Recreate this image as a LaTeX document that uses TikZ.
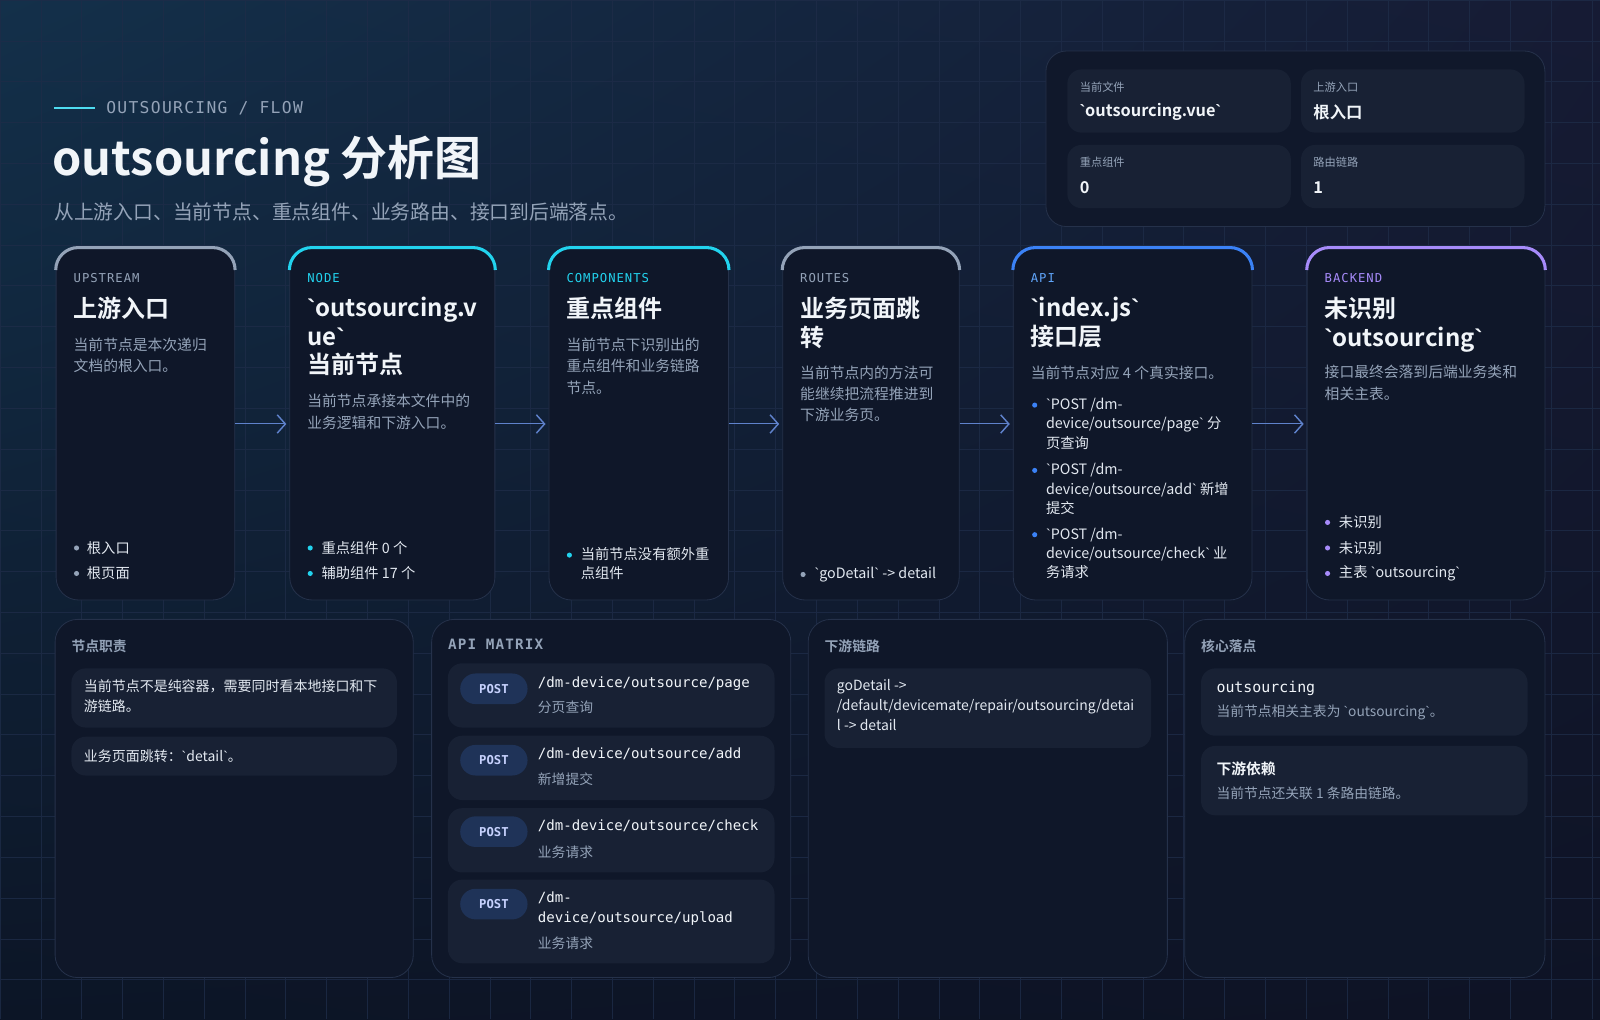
\documentclass[tikz,border=0pt]{standalone}
\usepackage{fontspec}
\setmainfont{Noto Sans CJK SC}[BoldFont={Noto Sans CJK SC Bold}]
\newfontfamily\labelfont[LetterSpace=8]{DejaVu Sans Mono}
\newfontfamily\codefont{DejaVu Sans Mono}
\newfontfamily\tickfont{Liberation Sans}
\usepackage{tikz}
\usetikzlibrary{arrows.meta,positioning,backgrounds,shadings}
\definecolor{bgTL}{HTML}{13304A}
\definecolor{bgTR}{HTML}{161B34}
\definecolor{bgBL}{HTML}{0C1526}
\definecolor{bgBR}{HTML}{0E1325}
\definecolor{gridc}{HTML}{1E2C48}
\definecolor{cardbg}{HTML}{0F1729}
\definecolor{cardline}{HTML}{25314A}
\definecolor{cellbg}{HTML}{182134}
\definecolor{ink}{HTML}{F1F5F9}
\definecolor{ink2}{HTML}{E2E8F0}
\definecolor{mute}{HTML}{94A3B8}
\definecolor{slate}{HTML}{94A3B8}
\definecolor{teal}{HTML}{22D3EE}
\definecolor{azure}{HTML}{3B82F6}
\definecolor{azuretxt}{HTML}{60A5FA}
\definecolor{violet}{HTML}{A78BFA}
\definecolor{arrowc}{HTML}{5F82CC}
\definecolor{pillbg}{HTML}{1F3358}
\definecolor{pilltxt}{HTML}{C7D2FE}
\newcommand\bq{{\tickfont\symbol{96}}}

\begin{document}
\begin{tikzpicture}[x=1pt,y=1pt,
    card/.style={draw=cardline, fill=cardbg, line width=0.8pt, rounded corners=22pt},
    cell/.style={fill=cellbg, rounded corners=14pt, inner sep=0},
    lbl/.style={anchor=west, inner sep=0, font=\labelfont\fontsize{12}{14}\selectfont},
    ttl/.style={anchor=north west, align=left, inner sep=0, text=ink, font=\bfseries\fontsize{23.5}{28}\selectfont},
    dsc/.style={anchor=north west, align=left, inner sep=0, text=mute, font=\fontsize{14.5}{21}\selectfont},
    itm/.style={anchor=north west, align=left, inner sep=0, text=ink2, font=\fontsize{14}{19}\selectfont},
    bul/.style={circle, fill=#1, inner sep=0, minimum size=5pt},
    head/.style={anchor=west, inner sep=0, text=mute, font=\bfseries\fontsize{13.5}{16}\selectfont},
    txt/.style={anchor=north west, align=left, inner sep=0, text=ink2, font=\fontsize{13.7}{19.5}\selectfont},
    small/.style={anchor=west, inner sep=0, text=mute, font=\fontsize{13.5}{16}\selectfont},
    path/.style={anchor=north west, align=left, inner sep=0, text=ink, font=\codefont\fontsize{13.8}{19.5}\selectfont},
    pill/.style={fill=pillbg, rounded corners=15pt, minimum width=66pt, minimum height=30pt, inner sep=0, text=pilltxt, font=\codefont\bfseries\fontsize{12}{14}\selectfont},
    flow/.style={draw=arrowc, line width=1pt, -{Straight Barb[length=8pt,width=18pt,line width=1.4pt]}, shorten >=3pt}]
  % background
  \useasboundingbox (0,0) rectangle (1568,-999);
  \shade[upper left=bgTL, upper right=bgTR, lower left=bgBL, lower right=bgBR] (0,0) rectangle (1568,-999);
  \draw[gridc, line width=0.5pt, opacity=0.8, step=40] (0,0) grid (1568,-999);

  % header
  \draw[teal!80, line width=1.5pt] (53,-106) -- (93,-106);
  \node[lbl, text=mute, font=\labelfont\fontsize{16}{18}\selectfont] (kicker) at (104,-106) {OUTSOURCING / FLOW};
  \node[anchor=west, inner sep=0, text=ink, font=\bfseries\fontsize{46}{50}\selectfont] (title) at (51,-158) {outsourcing 分析图};
  \node[anchor=west, inner sep=0, text=mute, font=\fontsize{19.4}{22}\selectfont] (subtitle) at (53,-208) {从上游入口、当前节点、重点组件、业务路由、接口到后端落点。};

  % meta panel
  \node[card, fill=cardbg!85!bgTR, rounded corners=20pt, minimum width=489pt, minimum height=172pt] (meta) at (1269.5,-136) {};
  \node[cell, minimum width=219pt, minimum height=62pt] (mfile) at (1155.5,-99) {};
  \node[cell, minimum width=219pt, minimum height=62pt] (mup) at (1384.5,-99) {};
  \node[cell, minimum width=219pt, minimum height=62pt] (mcomp) at (1155.5,-173) {};
  \node[cell, minimum width=219pt, minimum height=62pt] (mroute) at (1384.5,-173) {};
  \foreach \n/\x/\y/\l/\v in {fa/1058/85/当前文件/\bq outsourcing.vue\bq, fb/1287/85/上游入口/根入口,
                             fc/1058/159/重点组件/0, fd/1287/159/路由链路/1} {
    \node[anchor=west, inner sep=0, text=mute, font=\fontsize{11}{13}\selectfont] (\n l) at (\x,-\y) {\l};
    \node[anchor=west, inner sep=0, text=ink, font=\bfseries\fontsize{16}{18}\selectfont] (\n v) at (\x,-\y-25) {\v};
  }

  % flow cards
  \node[card, minimum width=175pt, minimum height=345pt] (up) at (142.5,-415.5) {};
  \node[card, minimum width=201pt, minimum height=345pt] (cur) at (384.5,-415.5) {};
  \node[card, minimum width=176pt, minimum height=345pt] (comp) at (626,-415.5) {};
  \node[card, minimum width=173pt, minimum height=345pt] (route) at (853.5,-415.5) {};
  \node[card, minimum width=234pt, minimum height=345pt] (api) at (1110,-415.5) {};
  \node[card, minimum width=233pt, minimum height=345pt] (back) at (1397.5,-415.5) {};
  \foreach \c/\col in {up/slate, cur/teal, comp/teal, route/slate, api/azure, back/violet}
    \draw[\col, line width=3pt] ([yshift=-22pt]\c.north west) arc (180:90:22pt) -- ([xshift=-22pt]\c.north east) arc (90:0:22pt);
  \draw[flow] (up) -- (cur);
  \draw[flow] (cur) -- (comp);
  \draw[flow] (comp) -- (route);
  \draw[flow] (route) -- (api);
  \draw[flow] (api) -- (back);

  % UPSTREAM
  \node[lbl, text=slate] (upk) at (72,-272) {UPSTREAM};
  \node[ttl] (upt) at (72,-291) {上游入口};
  \node[dsc] (upd) at (72,-331) {当前节点是本次递归\\文档的根入口。};
  \node[bul=slate] (upb1) at (75,-537) {};
  \node[itm, anchor=west] (upi1) at (85,-537) {根入口};
  \node[bul=slate] (upb2) at (75,-562) {};
  \node[itm, anchor=west] (upi2) at (85,-562) {根页面};

  % NODE
  \node[lbl, text=teal] (curk) at (301,-272) {NODE};
  \node[ttl] (curt) at (301,-291) {\bq outsourcing.v\\ue\bq\\当前节点};
  \node[dsc] (curd) at (301,-386) {当前节点承接本文件中的\\业务逻辑和下游入口。};
  \node[bul=teal] (curb1) at (304,-537) {};
  \node[itm, anchor=west] (curi1) at (315,-537) {重点组件 0 个};
  \node[bul=teal] (curb2) at (304,-562) {};
  \node[itm, anchor=west] (curi2) at (315,-562) {辅助组件 17 个};

  % COMPONENTS
  \node[lbl, text=teal] (compk) at (555,-272) {COMPONENTS};
  \node[ttl] (compt) at (555,-291) {重点组件};
  \node[dsc] (compd) at (555,-331) {当前节点下识别出的\\重点组件和业务链路\\节点。};
  \node[bul=teal] (compb) at (558,-544) {};
  \node[itm] (compi) at (569,-536) {当前节点没有额外重\\点组件};

  % ROUTES
  \node[lbl, text=slate] (routek) at (784,-272) {ROUTES};
  \node[ttl] (routet) at (784,-291) {业务页面跳\\转};
  \node[dsc] (routed) at (784,-358) {当前节点内的方法可\\能继续把流程推进到\\下游业务页。};
  \node[bul=slate] (routeb) at (787,-563) {};
  \node[itm, anchor=west] (routei) at (798,-563) {\bq goDetail\bq\ -> detail};

  % API
  \node[lbl, text=azuretxt] (apik) at (1010,-272) {API};
  \node[ttl] (apit) at (1010,-291) {\bq index.js\bq\\接口层};
  \node[dsc] (apid) at (1010,-358) {当前节点对应 4 个真实接口。};
  \foreach \n/\y/\t in {a/397/{\bq POST /dm-\\device/outsource/page\bq\ 分\\页查询},
                       b/461/{\bq POST /dm-\\device/outsource/add\bq\ 新增\\提交},
                       c/524/{\bq POST /dm-\\device/outsource/check\bq\ 业\\务请求}} {
    \node[bul=azure] (apib\n) at (1014,-\y) {};
    \node[itm] (apii\n) at (1025,-\y+7) {\t};
  }

  % BACKEND
  \node[lbl, text=violet] (backk) at (1298,-272) {BACKEND};
  \node[ttl] (backt) at (1298,-291) {未识别\\\bq outsourcing\bq};
  \node[dsc] (backd) at (1298,-358) {接口最终会落到后端业务类和\\相关主表。};
  \foreach \n/\y/\t in {a/512/未识别, b/537/未识别, c/562/{主表 \bq outsourcing\bq}} {
    \node[bul=violet] (backb\n) at (1301,-\y) {};
    \node[itm, anchor=west] (backi\n) at (1312,-\y) {\t};
  }

  % bottom panels
  \node[card, minimum width=351pt, minimum height=351pt] (duty) at (229.5,-782.5) {};
  \node[card, minimum width=352pt, minimum height=351pt] (matrix) at (599,-782.5) {};
  \node[card, minimum width=352pt, minimum height=351pt] (down) at (968,-782.5) {};
  \node[card, minimum width=353pt, minimum height=351pt] (core) at (1337.5,-782.5) {};

  % 节点职责
  \node[head] (dutyh) at (70,-633) {节点职责};
  \node[cell, minimum width=319pt, minimum height=58pt] (duty1) at (229.5,-684) {};
  \node[txt] (duty1t) at (82,-666) {当前节点不是纯容器，需要同时看本地接口和下\\游链路。};
  \node[cell, minimum width=319pt, minimum height=38pt] (duty2) at (229.5,-741) {};
  \node[txt, anchor=west] (duty2t) at (82,-741) {业务页面跳转：\bq detail\bq 。};

  % API MATRIX
  \node[head, font=\labelfont\bfseries\fontsize{14}{16}\selectfont] (matrixh) at (439,-631) {API MATRIX};
  \foreach \n/\c/\h/\p/\t in {a/681.5/63/670/{/dm-device/outsource/page},
                              b/752.5/63/740/{/dm-device/outsource/add},
                              c/823.5/63/810/{/dm-device/outsource/check},
                              d/903/82/881/{/dm-\\device/outsource/upload}} {
    \node[cell, minimum width=320pt, minimum height=\h pt] (row\n) at (599,-\c) {};
    \node[pill] (pill\n) at (484,-\p-5) {POST};
    \node[path] (path\n) at (527,-\p+7) {\t};
  }
  \node[small] (suba) at (527,-693) {分页查询};
  \node[small] (subb) at (527,-764) {新增提交};
  \node[small] (subc) at (527,-835) {业务请求};
  \node[small] (subd) at (527,-924) {业务请求};

  % 下游链路
  \node[head] (downh) at (808,-633) {下游链路};
  \node[cell, minimum width=320pt, minimum height=78pt] (down1) at (968,-694) {};
  \node[txt] (down1t) at (820,-666) {goDetail ->\\/default/devicemate/repair/outsourcing/detai\\l -> detail};

  % 核心落点
  \node[head] (coreh) at (1177,-633) {核心落点};
  \node[cell, minimum width=320pt, minimum height=66pt] (core1) at (1337,-688) {};
  \node[anchor=west, inner sep=0, text=ink, font=\codefont\fontsize{14.6}{17}\selectfont] (core1h) at (1192,-675) {outsourcing};
  \node[small] (core1t) at (1192,-698) {当前节点相关主表为 \bq outsourcing\bq 。};
  \node[cell, minimum width=320pt, minimum height=68pt] (core2) at (1337,-765) {};
  \node[anchor=west, inner sep=0, text=ink, font=\bfseries\fontsize{14.5}{17}\selectfont] (core2h) at (1192,-753) {下游依赖};
  \node[small] (core2t) at (1192,-777) {当前节点还关联 1 条路由链路。};
\end{tikzpicture}
\end{document}
